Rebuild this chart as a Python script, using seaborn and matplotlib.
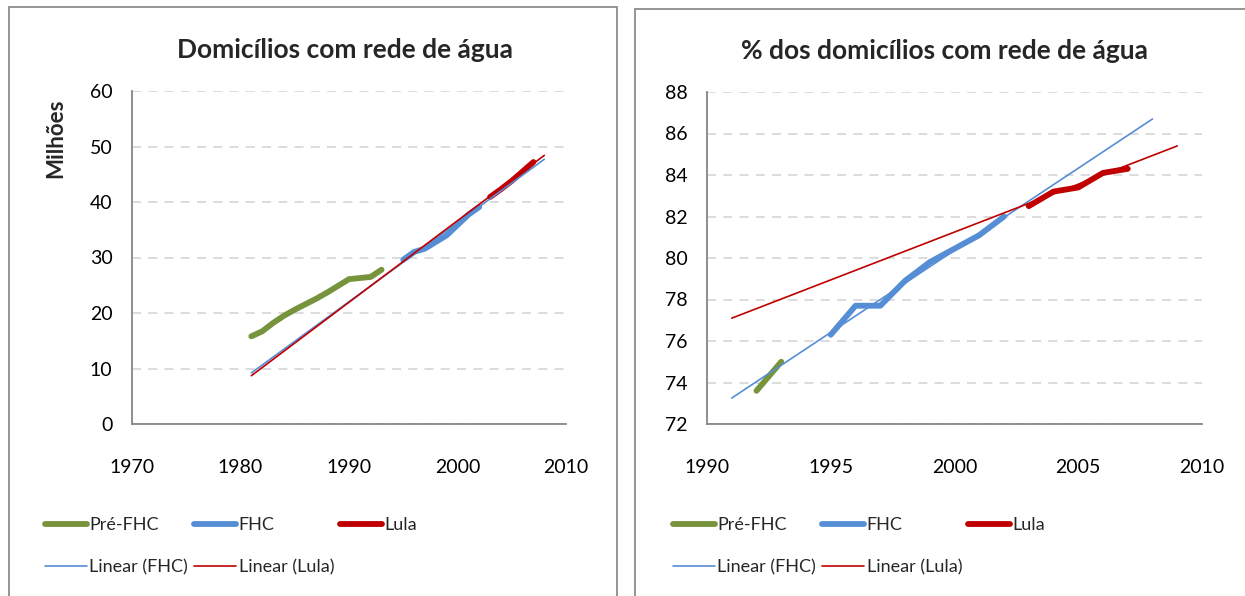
import matplotlib
matplotlib.use("Agg")
import matplotlib.pyplot as plt
from matplotlib.lines import Line2D
from matplotlib.patches import Rectangle
import seaborn as sns

# Domicílios com rede de água (milhões)
left_pre_years = [1981, 1982, 1983, 1984, 1985, 1986, 1987, 1988, 1989, 1990, 1992, 1993]
left_pre = [15.8, 16.7, 18.2, 19.5, 20.6, 21.6, 22.6, 23.7, 24.9, 26.1, 26.5, 27.8]
left_fhc_years = [1995, 1996, 1997, 1998, 1999, 2001, 2002]
left_fhc = [29.6, 31.0, 31.6, 32.8, 34.0, 37.7, 39.1]
left_lula_years = [2003, 2004, 2005, 2006, 2007]
left_lula = [40.9, 42.3, 43.8, 45.5, 47.2]
left_trend_years = [1981, 2008]
left_trend_fhc = [9.2, 47.7]
left_trend_lula = [8.7, 48.4]

# % dos domicílios com rede de água
right_pre_years = [1992, 1993]
right_pre = [73.6, 75.0]
right_fhc_years = [1995, 1996, 1997, 1998, 1999, 2001, 2002]
right_fhc = [76.3, 77.7, 77.7, 78.9, 79.8, 81.1, 82.0]
right_lula_years = [2003, 2004, 2005, 2006, 2007]
right_lula = [82.5, 83.2, 83.4, 84.1, 84.3]
right_trend_fhc_years = [1991, 2008]
right_trend_fhc = [73.25, 86.7]
right_trend_lula_years = [1991, 2009]
right_trend_lula = [77.1, 85.4]

GREEN = "#77933C"
BLUE = "#558ED5"
RED = "#C00000"
AXIS = "#868686"

sns.set_style("white")
plt.rcParams["font.family"] = ["Lato", "DejaVu Sans"]

W, H = 1245, 596
fig = plt.figure(figsize=(W / 100, H / 100), dpi=100)

# panel frames
fig.patches.append(Rectangle((9 / W, -0.05), (617 - 9) / W, 1.05 - 7 / H,
                             transform=fig.transFigure, fill=False,
                             edgecolor="#8C8C8C", lw=1.3))
fig.patches.append(Rectangle((635 / W, -0.05), 0.5, 1.05 - 9 / H,
                             transform=fig.transFigure, fill=False,
                             edgecolor="#8C8C8C", lw=1.3))


def px_axes(x0, y0, x1, y1):
    return fig.add_axes([x0 / W, 1 - y1 / H, (x1 - x0) / W, (y1 - y0) / H])


def style(ax, xticks, yticks):
    ax.set_xlim(xticks[0], xticks[-1])
    ax.set_ylim(yticks[0], yticks[-1])
    ax.set_xticks(xticks)
    ax.set_yticks(yticks)
    for s in ["top", "right"]:
        ax.spines[s].set_visible(False)
    for s in ["left", "bottom"]:
        ax.spines[s].set_color(AXIS)
        ax.spines[s].set_linewidth(1.3)
    ax.tick_params(axis="both", direction="out", length=6, width=1.3,
                   color=AXIS, labelsize=14, labelcolor="black")
    ax.tick_params(axis="x", pad=19)
    ax.tick_params(axis="y", pad=8)
    ax.yaxis.grid(True, color="#D9D9D9", linestyle=(0, (5, 4)), lw=1.3)
    ax.xaxis.grid(False)
    ax.set_axisbelow(True)
    ax.set_xlabel("")
    ax.set_ylabel("")


def draw(ax, pre_x, pre_y, fhc_x, fhc_y, lula_x, lula_y, tf_x, tf_y, tl_x, tl_y):
    thick = dict(lw=4.2, solid_capstyle="round", solid_joinstyle="round")
    sns.lineplot(x=pre_x, y=pre_y, ax=ax, color=GREEN, **thick)
    sns.lineplot(x=fhc_x, y=fhc_y, ax=ax, color=BLUE, **thick)
    sns.lineplot(x=lula_x, y=lula_y, ax=ax, color=RED, **thick)
    sns.lineplot(x=tf_x, y=tf_y, ax=ax, color=BLUE, lw=1.2)
    sns.lineplot(x=tl_x, y=tl_y, ax=ax, color=RED, lw=1.2)


def legend(ax, x, y):
    h = [Line2D([], [], color=GREEN, lw=4.2, solid_capstyle="round"),
         Line2D([], [], color=BLUE, lw=1.2),
         Line2D([], [], color=BLUE, lw=4.2, solid_capstyle="round"),
         Line2D([], [], color=RED, lw=1.2),
         Line2D([], [], color=RED, lw=4.2, solid_capstyle="round")]
    labels = ["Pré-FHC", "Linear (FHC)", "FHC", "Linear (Lula)", "Lula"]
    ax.legend(h, labels, loc="upper left", bbox_to_anchor=(x / W, 1 - y / H),
              bbox_transform=fig.transFigure, ncol=3, frameon=False,
              fontsize=13, handlelength=2.3, handletextpad=0.15,
              columnspacing=0.35, labelspacing=1.45, borderpad=0,
              borderaxespad=0)


ax1 = px_axes(132, 91, 566, 424)
draw(ax1, left_pre_years, left_pre, left_fhc_years, left_fhc,
     left_lula_years, left_lula, left_trend_years, left_trend_fhc,
     left_trend_years, left_trend_lula)
style(ax1, [1970, 1980, 1990, 2000, 2010], [0, 10, 20, 30, 40, 50, 60])
ax1.set_title("Domicílios com rede de água", fontsize=19, fontweight="bold",
              pad=24, x=0.49)
fig.text(56 / W, 1 - 138 / H, "Milhões", rotation=90, ha="center", va="center",
         fontsize=16, fontweight="bold")
legend(ax1, 45, 517)

ax2 = px_axes(707, 92, 1202, 424)
draw(ax2, right_pre_years, right_pre, right_fhc_years, right_fhc,
     right_lula_years, right_lula, right_trend_fhc_years, right_trend_fhc,
     right_trend_lula_years, right_trend_lula)
style(ax2, [1990, 1995, 2000, 2005, 2010], [72, 74, 76, 78, 80, 82, 84, 86, 88])
ax2.set_title("% dos domicílios com rede de água", fontsize=19,
              fontweight="bold", pad=24, x=0.48)
legend(ax2, 673, 517)

fig.savefig("out.png", dpi=100)
